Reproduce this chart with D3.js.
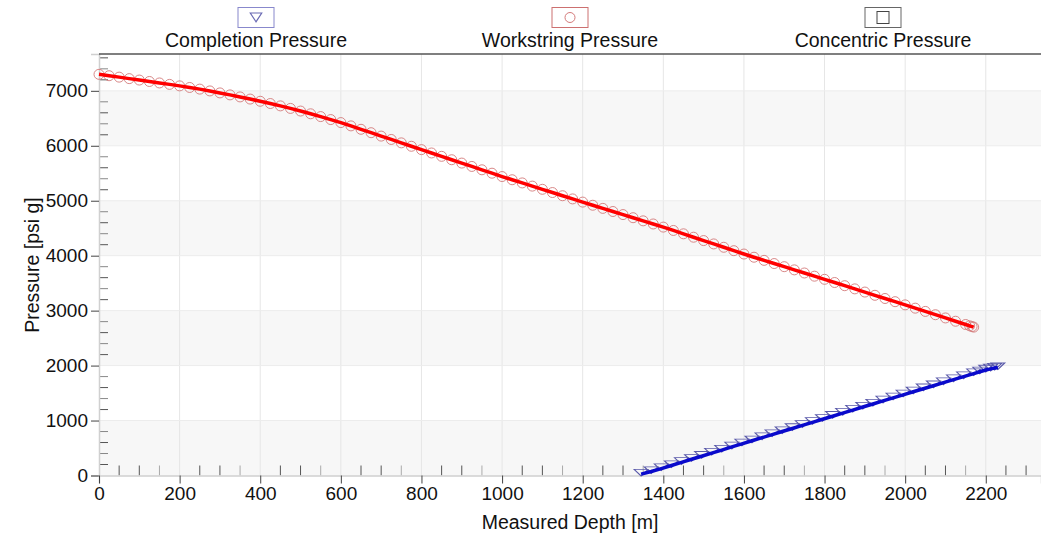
<!DOCTYPE html>
<html>
<head>
<meta charset="utf-8">
<script src="https://cdn.jsdelivr.net/npm/d3@7"></script>
<style>
  body { margin: 0; background: #fff; }
  text { font-family: "Liberation Sans", Arial, sans-serif; fill: #111; }
</style>
</head>
<body>
<div id="chart-area"></div>
<script>

// series data (measured depth [m] -> pressure [psi g])
let workDepth = [0, 25, 50, 75, 100, 125, 150, 175, 200, 225, 250, 275, 300, 325, 350, 375, 400,
	425, 450, 475, 500, 525, 550, 575, 600, 625, 650, 675, 700, 725, 750, 775, 800,
	825, 850, 875, 900, 925, 950, 975, 1000, 1025, 1050, 1075, 1100, 1125, 1150, 1175, 1200,
	1225, 1250, 1275, 1300, 1325, 1350, 1375, 1400, 1425, 1450, 1475, 1500, 1525, 1550, 1575, 1600,
	1625, 1650, 1675, 1700, 1725, 1750, 1775, 1800, 1825, 1850, 1875, 1900, 1925, 1950, 1975, 2000,
	2025, 2050, 2075, 2100, 2125, 2150, 2160, 2166, 2170];
let workPressure = [7300, 7275, 7249, 7222, 7196, 7170, 7143, 7117, 7090, 7061, 7031, 6998, 6962, 6926, 6889, 6850, 6810,
	6769, 6726, 6680, 6632, 6582, 6531, 6477, 6422, 6362, 6300, 6238, 6176, 6115, 6053, 5991, 5930,
	5869, 5808, 5746, 5685, 5624, 5563, 5501, 5440, 5382, 5324, 5266, 5208, 5149, 5091, 5033, 4975,
	4918, 4861, 4804, 4748, 4691, 4634, 4577, 4520, 4459, 4398, 4336, 4275, 4214, 4153, 4091, 4030,
	3972, 3915, 3857, 3800, 3742, 3685, 3627, 3570, 3512, 3454, 3396, 3338, 3279, 3221, 3163, 3105,
	3045, 2986, 2926, 2867, 2807, 2748, 2724, 2710, 2700];

let compDepth = [1345, 1370, 1395, 1420, 1445, 1470, 1495, 1520, 1545, 1570, 1595, 1620, 1645, 1670, 1695,
	1720, 1745, 1770, 1795, 1820, 1845, 1870, 1895, 1920, 1945, 1970, 1995, 2020, 2045, 2070, 2095,
	2120, 2145, 2170, 2185, 2200, 2212, 2222, 2230];
let compPressure = [25, 72, 126, 182, 238, 295, 351, 407, 463, 520, 576, 632, 688, 744, 800,
	856, 911, 967, 1023, 1079, 1134, 1190, 1246, 1301, 1357, 1413, 1468, 1524, 1579, 1634, 1689,
	1744, 1799, 1854, 1887, 1920, 1940, 1955, 1965];

let legendNames = ["Completion Pressure", "Workstring Pressure", "Concentric Pressure"];
let yTicks = [0, 1000, 2000, 3000, 4000, 5000, 6000, 7000];
let xTicks = [0, 200, 400, 600, 800, 1000, 1200, 1400, 1600, 1800, 2000, 2200];

let W = 1041, H = 537;
let margin = {top: 54, right: 0, bottom: 61.5, left: 99};
let width = W - margin.left - margin.right;
let height = H - margin.top - margin.bottom;

let svg = d3.select("#chart-area").append("svg")
	.attr("width", W)
	.attr("height", H)
	.append("g")
	.attr("transform", "translate(" + margin.left + "," + margin.top + ")");

let x = d3.scaleLinear().domain([0, 2337]).range([0, width]);
let y = d3.scaleLinear().domain([0, 7670]).range([height, 0]);

// alternating bands
svg.selectAll(".band")
	.data(yTicks.filter((d, i) => i % 2 == 0))
	.enter().append("rect")
	.attr("class", "band")
	.attr("x", 0)
	.attr("width", width)
	.attr("y", d => y(d + 1000))
	.attr("height", d => y(d) - y(d + 1000))
	.attr("fill", "#f7f7f7");

// vertical grid
svg.selectAll(".vgrid")
	.data(xTicks.slice(1))
	.enter().append("line")
	.attr("x1", d => x(d)).attr("x2", d => x(d))
	.attr("y1", 0).attr("y2", height)
	.attr("stroke", "#e6e6e6");

// horizontal grid edges
svg.selectAll(".hgrid")
	.data(yTicks.slice(1))
	.enter().append("line")
	.attr("x1", 0).attr("x2", width)
	.attr("y1", d => y(d)).attr("y2", d => y(d))
	.attr("stroke", "#ececec");

// minor ticks inside the plot
svg.selectAll(".yminor")
	.data(d3.range(200, 7670, 200).filter(d => d % 1000 != 0))
	.enter().append("line")
	.attr("x1", 0).attr("x2", 9)
	.attr("y1", d => y(d)).attr("y2", d => y(d))
	.attr("stroke", (d, i) => i % 2 ? "#888" : "#555");

svg.selectAll(".xminor")
	.data(d3.range(50, 2337, 50).filter(d => d % 200 != 0))
	.enter().append("line")
	.attr("x1", d => x(d)).attr("x2", d => x(d))
	.attr("y1", height).attr("y2", height - 10)
	.attr("stroke", (d, i) => i % 3 == 2 ? "#aaa" : "#555");

// axes
let yAxis = d3.axisLeft(y).tickValues(yTicks).tickSize(8).tickPadding(3).tickFormat(d3.format("d"));
let gy = svg.append("g").attr("class", "y-axis").call(yAxis);
let xAxis = d3.axisBottom(x).tickValues(xTicks).tickSize(8).tickPadding(3).tickFormat(d3.format("d"));
let gx = svg.append("g").attr("class", "x-axis").attr("transform", "translate(0," + height + ")").call(xAxis);

[gx, gy].forEach(g => {
	g.select(".domain").attr("stroke", "#d0d0d0").attr("stroke-width", 1.5);
	g.selectAll(".tick line").attr("stroke", "#444");
	g.selectAll(".tick text").style("font-size", "19px").attr("fill", "#111")
		.style("font-family", "'Liberation Sans', Arial, sans-serif");
});

// top border
svg.append("line")
	.attr("x1", 0).attr("x2", width)
	.attr("y1", 0).attr("y2", 0)
	.attr("stroke", "#555").attr("stroke-width", 1.5);

// axis titles
svg.append("text")
	.attr("transform", "translate(" + (32 - margin.left) + "," + (265 - margin.top) + ") rotate(-90)")
	.attr("text-anchor", "middle")
	.attr("dy", "0.35em")
	.style("font-size", "19.5px")
	.text("Pressure [psi g]");

svg.append("text")
	.attr("x", 570 - margin.left)
	.attr("y", 529 - margin.top)
	.attr("text-anchor", "middle")
	.style("font-size", "19.5px")
	.text("Measured Depth [m]");

let line = d3.line().x(d => x(d[0])).y(d => y(d[1]));
let workData = d3.zip(workDepth, workPressure);
let compData = d3.zip(compDepth, compPressure);

// markers
let triangle = d3.symbol().type(d3.symbolTriangle).size(40);

svg.selectAll(".circ")
	.data(workData)
	.enter().append("circle")
	.attr("cx", d => x(d[0]))
	.attr("cy", d => y(d[1]))
	.attr("r", 5)
	.attr("fill", "none")
	.attr("stroke", "#d47a7a")
	.attr("stroke-width", 0.9);

svg.selectAll(".tri")
	.data(compData)
	.enter().append("path")
	.attr("d", triangle)
	.attr("transform", d => "translate(" + x(d[0]) + "," + (y(d[1]) - 2.5) + ") rotate(180) scale(1.45,0.8)")
	.attr("fill", "none")
	.attr("stroke", "#5a5aaa")
	.attr("stroke-width", 1);

// lines
svg.append("path").datum(workData)
	.attr("d", line).attr("fill", "none")
	.attr("stroke", "#ff0000").attr("stroke-width", 3.5);

svg.append("path").datum(compData)
	.attr("d", line).attr("fill", "none")
	.attr("stroke", "#0a0acc").attr("stroke-width", 3.5);

// legend
let legendX = [256, 570, 883];
let legendColor = ["#8888cc", "#cc7070", "#666"];
let leg = d3.select("svg").append("g");
legendNames.forEach((name, i) => {
	let g = leg.append("g").attr("transform", "translate(" + legendX[i] + ",0)");
	g.append("rect")
		.attr("x", -18).attr("y", 7.5)
		.attr("width", 36).attr("height", 20)
		.attr("fill", "#fff")
		.attr("stroke", legendColor[i]);
	if (i == 0) {
		g.append("path")
			.attr("d", triangle)
			.attr("transform", "translate(0,16) rotate(180) scale(1.2,1.05)")
			.attr("fill", "none").attr("stroke", "#6a6ab4");
	} else if (i == 1) {
		g.append("circle").attr("cx", 0).attr("cy", 17.5).attr("r", 5)
			.attr("fill", "none").attr("stroke", "#d47a7a");
	} else {
		g.append("rect").attr("x", -6).attr("y", 11.5).attr("width", 12).attr("height", 12)
			.attr("fill", "none").attr("stroke", "#444");
	}
	g.append("text")
		.attr("x", 0).attr("y", 47)
		.attr("text-anchor", "middle")
		.style("font-size", "19.5px")
		.text(name);
});

</script>
</body>
</html>
